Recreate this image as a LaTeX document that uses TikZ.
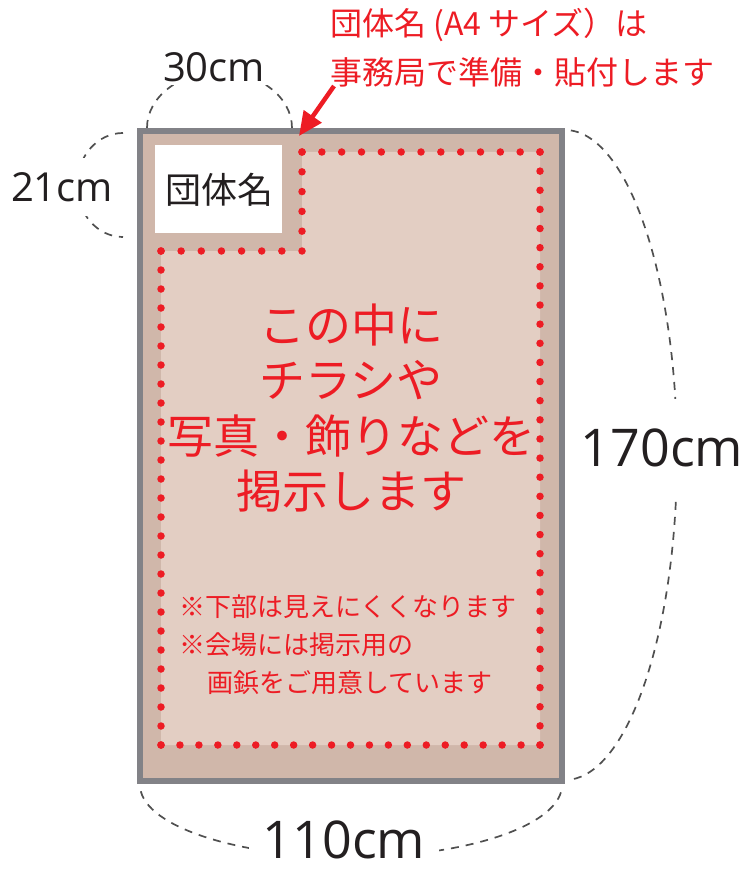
\documentclass[tikz,border=0pt]{standalone}
\usepackage{fontspec}
\usetikzlibrary{arrows.meta}
\newfontfamily\jpfont{Noto Sans CJK JP}
\newfontfamily\latfont{Open Sans}
\definecolor{boardtan}{RGB}{208,183,170}
\definecolor{boardlight}{RGB}{227,206,195}
\definecolor{boardgray}{RGB}{130,130,135}
\definecolor{dotred}{RGB}{237,28,36}
\definecolor{darktext}{RGB}{35,31,32}
\definecolor{dimgray}{RGB}{80,80,80}
\begin{document}
\begin{tikzpicture}[x=1pt,y=-1pt,
  dimline/.style={draw=dimgray, line width=1.7pt, dash pattern=on 8pt off 7pt},
  dimlabel/.style={font=\latfont\fontsize{40}{44}\selectfont, text=darktext, fill=white, inner sep=3pt},
  bigdimlabel/.style={font=\latfont\fontsize{52}{56}\selectfont, text=darktext, fill=white},
  dotseg/.style={draw=dotred, line width=7.5pt, line cap=round, dash pattern=on 0pt off #1},
  titletext/.style={font=\jpfont\fontsize{32}{36}\selectfont, text=dotred, inner sep=0pt, anchor=west},
  maintext/.style={font=\jpfont\fontsize{46}{50}\selectfont, text=dotred, inner sep=0pt},
  notetext/.style={font=\jpfont\fontsize{26}{30}\selectfont, text=dotred, inner sep=0pt, anchor=west},
  boxtext/.style={font=\jpfont\fontsize{36}{40}\selectfont, text=darktext, inner sep=0pt}]
\useasboundingbox (0,0) rectangle (748,869);

% dimension arcs
\draw[dimline] (219.5,128) ++(180:72.5 and 56) arc[start angle=180, end angle=360, x radius=72.5, y radius=56];
\draw[dimline] (123,185) ++(270:46 and 52) arc[start angle=270, end angle=90, x radius=46, y radius=52];
\draw[dimline] (565,455) ++(-87:112 and 325) arc[start angle=-87, end angle=87, x radius=112, y radius=325];
\draw[dimline] (351,785) ++(175:211 and 72) arc[start angle=175, end angle=5, x radius=211, y radius=72];

% board
\draw[line width=6pt, draw=boardgray, fill=boardtan] (140,131) rectangle (562,781);
\fill[boardlight] (302,152) -- (540,152) -- (540,745) -- (161,745) -- (161,251) -- (302,251) -- cycle;
\fill[white] (155,145) rectangle (282,233);

% dotted outline
\draw[dotseg=19.833pt] (302,152) -- (540,152);
\draw[dotseg=19.129pt] (540,152) -- (540,745);
\draw[dotseg=18.95pt] (540,745) -- (161,745);
\draw[dotseg=19pt] (161,745) -- (161,251);
\draw[dotseg=20.143pt] (161,251) -- (302,251);
\draw[dotseg=19.8pt] (302,251) -- (302,152);

% texts
\node[boxtext] (namebox) at (219,190) {団体名};
\node[titletext] (title1) at (330,25) {団体名 (A4 サイズ）は};
\node[titletext] (title2) at (330,72) {事務局で準備・貼付します};

\node[maintext] (main1) at (351,325) {この中に};
\node[maintext] (main2) at (351,380) {チラシや};
\node[maintext] (main3) at (351,436) {写真・飾りなどを};
\node[maintext] (main4) at (351,491) {掲示します};

\node[notetext] (note1) at (179,607) {※下部は見えにくくなります};
\node[notetext] (note2) at (179,645) {※会場には掲示用の};
\node[notetext] (note3) at (207,683) {画鋲をご用意しています};

% arrow
\coordinate (arrowtail) at (334,86);
\coordinate (arrowtip) at (299,136);
\draw[draw=dotred, line width=4.5pt, -{Triangle[length=24pt,width=21pt]}] (arrowtail) -- (arrowtip);

% dimension labels
\node[dimlabel] (dimA) at (214,67) {30cm};
\node[dimlabel, inner xsep=2pt, inner ysep=14pt] (dimB) at (62,187) {21cm};
\node[bigdimlabel, inner xsep=4pt, inner ysep=30pt] (dimC) at (662,448) {170cm};
\node[bigdimlabel, inner xsep=14pt, inner ysep=2pt] (dimD) at (344,840) {110cm};
\end{tikzpicture}
\end{document}
